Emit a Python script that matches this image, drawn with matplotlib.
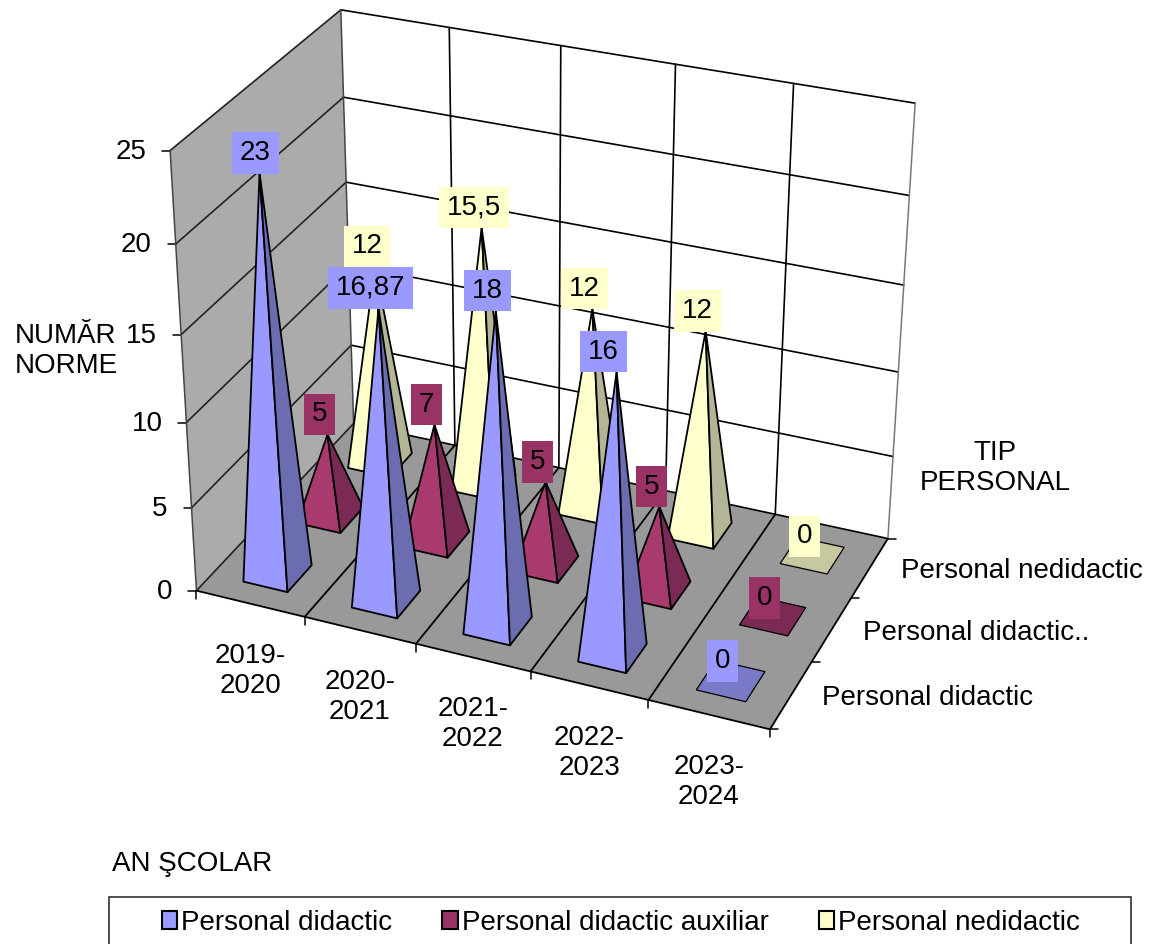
import numpy as np
import matplotlib
matplotlib.use("Agg")
import matplotlib.pyplot as plt
from matplotlib.patches import Polygon, Rectangle, Patch

# ---- data ----
years = ["2019-\n2020", "2020-\n2021", "2021-\n2022", "2022-\n2023", "2023-\n2024"]
series_names = ["Personal didactic", "Personal didactic auxiliar", "Personal nedidactic"]
series_axis_labels = ["Personal didactic", "Personal didactic..", "Personal nedidactic"]
didactic = [23, 16.87, 18, 16, 0]
auxiliar = [5, 7, 5, 5, 0]
nedidactic = [12, 15.5, 12, 12, 0]
value_ticks = [0, 5, 10, 15, 20, 25]

# ---- style ----
front_cols = ["#9999FF", "#A93A70", "#FFFFCC"]
side_cols = ["#6C6CB0", "#7A2A55", "#B4B496"]
flat_cols = ["#7A7AC8", "#7A2A55", "#C8C8A0"]
label_cols = ["#9999FF", "#993366", "#FFFFCC"]
label_dy = [-20, -20, -20]
label_dy_flat = [-20, -18, -19]
label_dx_adjust = {(0, 0): 4, (0, 3): -5}
FS = 20
LS = 1.2
plt.rcParams["font.family"] = ["Liberation Sans", "DejaVu Sans"]

fig = plt.figure(figsize=(11.49, 9.44), dpi=100)
ax = fig.add_axes([0, 0, 1, 1])
ax.set_xlim(0, 1149)
ax.set_ylim(944, 0)
ax.axis("off")

# perspective camera fitted to the box corners (x: category, y: series, z: value)
NX, NY, ZMAX = len(years), 3, value_ticks[-1]
world = [(0, 0, 0), (NX, 0, 0), (NX, NY, 0), (0, NY, 0), (0, 0, ZMAX), (0, NY, ZMAX), (NX, NY, ZMAX)]
image = [(197, 591), (770, 729), (888, 539), (353, 423), (169.5, 150.5), (341.5, 10), (915, 103)]
A, b = [], []
for (X, Y, Z), (u, v) in zip(world, image):
    A.append([X, Y, Z, 1, 0, 0, 0, 0, -u * X, -u * Y, -u * Z])
    b.append(u)
    A.append([0, 0, 0, 0, X, Y, Z, 1, -v * X, -v * Y, -v * Z])
    b.append(v)
m = np.linalg.lstsq(np.array(A, float), np.array(b, float), rcond=None)[0]
M = np.append(m, 1).reshape(3, 4)


def P(x, y, z):
    q = M @ np.array([x, y, z, 1.0])
    return q[0] / q[2], q[1] / q[2]


def line(p, q, color="black", lw=1.2, z=2):
    ax.plot([p[0], q[0]], [p[1], q[1]], color=color, lw=lw, zorder=z, solid_capstyle="round")


# walls and floor
ax.add_patch(Polygon([P(0, 0, 0), P(0, NY, 0), P(0, NY, ZMAX), P(0, 0, ZMAX)], fc="#ABABAB", ec="none", zorder=1))
ax.add_patch(Polygon([P(0, 0, 0), P(NX, 0, 0), P(NX, NY, 0), P(0, NY, 0)], fc="#999999", ec="none", zorder=1))

for v in value_ticks:
    line(P(0, 0, v), P(0, NY, v), "#222222", 1.2)
    line(P(0, NY, v), P(NX, NY, v), "black", 1.2)
    tx, ty = P(0, 0, v)
    line((tx - 8, ty), (tx, ty), "black", 1.1)
    ax.text(tx - 24, ty + 1.5, str(v), ha="right", va="center", fontsize=FS, zorder=3)
line(P(0, 0, 0), P(0, 0, ZMAX), "#444444", 1.1)
line(P(0, NY, 0), P(0, NY, ZMAX), "#444444", 1.1)
line(P(NX, NY, 0), P(NX, NY, ZMAX), "#777777", 1.1)
for i in range(1, NX):
    line(P(i, NY, 0), P(i, NY, ZMAX), "black", 1.2)
    line(P(i, 0, 0), P(i, NY, 0), "black", 1.3)
line(P(0, 0, 0), P(NX, 0, 0), "black", 1.3)
line(P(NX, 0, 0), P(NX, NY, 0), "black", 1.3)

# axis ticks and labels
for i in range(NX + 1):
    tx, ty = P(i, 0, 0)
    line((tx, ty), (tx, ty + 8), "black", 1.1)
for i, lab in enumerate(years):
    tx, ty = P(i + 0.5, 0, 0)
    ax.text(tx, ty + 67, lab, ha="center", va="center", fontsize=FS, linespacing=LS, zorder=3)
for j in range(NY + 1):
    tx, ty = P(NX, j, 0)
    line((tx, ty), (tx + 8, ty), "black", 1.1)
for j, lab in enumerate(series_axis_labels):
    tx, ty = P(NX, j + 0.5, 0)
    ax.text(tx + 31, ty + 3, lab, ha="left", va="center", fontsize=FS, zorder=3)

# pyramids, back row first
values = [didactic, auxiliar, nedidactic]
HX, HY = 0.205, 0.225
zo = 10
for j in [2, 1, 0]:
    for i, val in enumerate(values[j]):
        cx, cy = i + 0.5, j + 0.5
        fl, fr = P(cx - HX, cy - HY, 0), P(cx + HX, cy - HY, 0)
        br, bl = P(cx + HX, cy + HY, 0), P(cx - HX, cy + HY, 0)
        top = P(cx, cy, val)
        if val == 0:
            ax.add_patch(Polygon([fl, fr, br, bl], fc=flat_cols[j], ec="black", lw=0.9, zorder=zo))
        else:
            ax.add_patch(Polygon([fl, fr, top], fc=front_cols[j], ec="black", lw=1.3, joinstyle="round", zorder=zo))
            ax.add_patch(Polygon([fr, br, top], fc=side_cols[j], ec="black", lw=1.3, joinstyle="round", zorder=zo))
        zo += 1
        lab = f"{val:g}".replace(".", ",")
        dx = -8 + label_dx_adjust.get((j, i), 0)
        dy = label_dy_flat[j] if val == 0 else label_dy[j]
        ax.text(top[0] + dx, top[1] + dy, lab, ha="center", va="center", fontsize=FS, zorder=100 + zo,
                bbox=dict(boxstyle="square,pad=0.28", fc=label_cols[j], ec="none"))

# titles
ax.text(15, 351, "NUMĂR\nNORME", ha="left", va="center", fontsize=FS, linespacing=LS)
ax.text(995, 468, "TIP\nPERSONAL", ha="center", va="center", fontsize=FS, linespacing=LS)
ax.text(112, 864, "AN ŞCOLAR", ha="left", va="center", fontsize=FS)

# legend
ax.add_patch(Rectangle((109, 897), 1022, 60, fc="white", ec="#333333", lw=1.2, zorder=1))
handles = [Patch(fc=c, ec="black", lw=1.5, label=n) for c, n in zip(label_cols, series_names)]
ax.legend(handles=handles, ncol=3, frameon=False, loc="center", bbox_to_anchor=(621, 923),
          bbox_transform=ax.transData, fontsize=FS, handlelength=0.55, handleheight=0.6,
          handletextpad=0.15, columnspacing=1.8, borderpad=0)

fig.savefig("out.png", dpi=100)
